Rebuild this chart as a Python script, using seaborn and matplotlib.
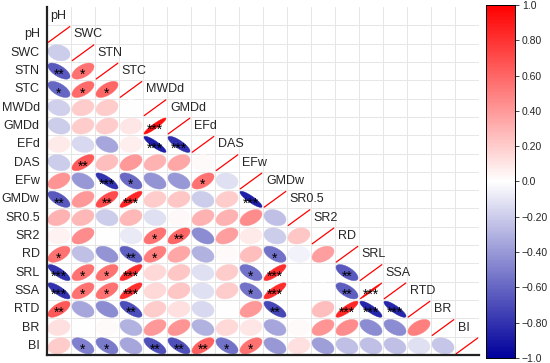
import numpy as np
import pandas as pd
import matplotlib
matplotlib.use("Agg")
import matplotlib.pyplot as plt
from matplotlib.colors import LinearSegmentedColormap
from matplotlib.patches import Polygon
import seaborn as sns

# variables in plotting order
variables = ["pH", "SWC", "STN", "STC", "MWDd", "GMDd", "EFd", "DAS", "EFw",
             "GMDw", "SR0.5", "SR2", "RD", "SRL", "SSA", "RTD", "BR", "BI"]

# lower-triangle correlations (row i, columns 0..i-1)
r_SWC = [-0.2]
r_STN = [-0.65, 0.55]
r_STC = [-0.6, 0.58, 0.6]
r_MWDd = [-0.18, 0.2, 0.2, 0.0]
r_GMDd = [-0.2, 0.2, 0.2, 0.1, 0.93]
r_EFd = [0.08, -0.15, -0.35, 0.07, -0.88, -0.82]
r_DAS = [-0.2, 0.65, 0.25, 0.4, 0.3, 0.35, 0.02]
r_EFw = [0.42, -0.4, -0.8, -0.58, -0.42, -0.4, 0.55, -0.12]
r_GMDw = [-0.65, 0.4, 0.7, 0.85, 0.2, 0.22, -0.2, 0.2, -0.88]
r_SR05 = [0.3, 0.28, -0.2, 0.28, -0.12, 0.03, 0.3, 0.3, 0.45, -0.25]
r_SR2 = [0.05, 0.45, 0.0, -0.08, 0.55, 0.6, -0.45, 0.38, 0.08, -0.2, 0.22]
r_RD = [0.55, -0.25, -0.42, -0.62, 0.5, 0.35, -0.3, 0.02, 0.25, -0.55, -0.05, 0.38]
r_SRL = [-0.8, 0.55, 0.55, 0.82, 0.15, 0.22, -0.12, 0.2, -0.55, 0.82, 0.0, 0.0, -0.65]
r_SSA = [-0.8, 0.55, 0.55, 0.82, 0.15, 0.22, -0.12, 0.2, -0.55, 0.82, 0.0, 0.0, -0.63, 0.99]
r_RTD = [0.65, -0.35, -0.45, -0.7, 0.2, 0.12, -0.15, 0.0, 0.4, -0.72, 0.0, 0.25, 0.85, -0.85, -0.85]
r_BR = [0.12, 0.0, 0.02, -0.3, 0.4, 0.42, -0.3, 0.15, 0.1, -0.35, 0.02, 0.42, 0.45, -0.45, -0.45, 0.5]
r_BI = [0.2, -0.5, -0.52, -0.35, -0.68, -0.68, 0.62, -0.55, 0.55, -0.4, 0.12, -0.38, -0.25, -0.25, -0.25, -0.12, -0.22]

# significance marks, same layout
s_SWC = [""]
s_STN = ["**", "*"]
s_STC = ["*", "*", "*"]
s_MWDd = ["", "", "", ""]
s_GMDd = ["", "", "", "", "***"]
s_EFd = ["", "", "", "", "***", "***"]
s_DAS = ["", "**", "", "", "", "", ""]
s_EFw = ["", "", "***", "*", "", "", "*", ""]
s_GMDw = ["**", "", "**", "***", "", "", "", "", "***"]
s_SR05 = [""] * 10
s_SR2 = ["", "", "", "", "*", "**", "", "", "", "", ""]
s_RD = ["*", "", "", "**", "*", "", "", "", "", "*", "", ""]
s_SRL = ["***", "*", "*", "***", "", "", "", "", "*", "***", "", "", "**"]
s_SSA = ["***", "*", "*", "***", "", "", "", "", "*", "***", "", "", "**", "***"]
s_RTD = ["**", "", "", "**", "", "", "", "", "", "**", "", "", "***", "***", "***"]
s_BR = [""] * 16
s_BI = ["", "*", "*", "", "**", "**", "**", "*", "*", "", "", "", "", "", "", "", ""]

rows_r = [[], r_SWC, r_STN, r_STC, r_MWDd, r_GMDd, r_EFd, r_DAS, r_EFw, r_GMDw,
          r_SR05, r_SR2, r_RD, r_SRL, r_SSA, r_RTD, r_BR, r_BI]
rows_s = [[], s_SWC, s_STN, s_STC, s_MWDd, s_GMDd, s_EFd, s_DAS, s_EFw, s_GMDw,
          s_SR05, s_SR2, s_RD, s_SRL, s_SSA, s_RTD, s_BR, s_BI]

n = len(variables)
corr = np.full((n, n), np.nan)
for i, vals in enumerate(rows_r):
    corr[i, :i] = vals
    corr[i, i] = 1.0
corr_df = pd.DataFrame(corr, index=variables, columns=variables)

cmap = LinearSegmentedColormap.from_list("corr", ["#00009C", "#FFFFFF", "#FF0000"])
norm = plt.Normalize(-1, 1)

sns.set_style("white")
plt.rcParams["font.family"] = ["Liberation Sans", "DejaVu Sans"]

fig = plt.figure(figsize=(5.5, 3.63), dpi=100)
ax = fig.add_axes([47 / 550, 8 / 363, 432 / 550, 348 / 363])
cax = fig.add_axes([486 / 550, 5 / 363, 29 / 550, 353 / 363])

# empty frame (header row + matrix), used for axes and colorbar
frame = pd.concat([pd.DataFrame([[np.nan] * n], columns=variables, index=[""]), corr_df])
sns.heatmap(frame, mask=np.ones(frame.shape, dtype=bool), cmap=cmap, vmin=-1, vmax=1,
            ax=ax, cbar_ax=cax, xticklabels=False, yticklabels=False)

ax.set_xlim(0, n)
ax.set_ylim(n + 1, 0)
ax.set_xticks(range(n + 1))
ax.set_yticks(range(1, n + 2))
ax.grid(True, color="#E6E6E6", lw=0.7)
ax.set_axisbelow(True)
ax.tick_params(length=0, labelbottom=False, labelleft=False)
for side in ["top", "right"]:
    ax.spines[side].set_visible(False)
for side in ["left", "bottom"]:
    ax.spines[side].set_visible(True)
    ax.spines[side].set_color("#222222")
    ax.spines[side].set_linewidth(1.6)

t = np.linspace(0, 2 * np.pi, 80)
sx, sy = 0.46, 0.44
for i in range(n):
    for j in range(i + 1):
        r = corr[i, j]
        cx, cy = j + 0.5, i + 1.5
        if i == j:
            ax.plot([cx - 0.45, cx + 0.45], [cy + 0.43, cy - 0.43], color="red", lw=0.9)
            continue
        d = np.arccos(np.clip(r, -1, 1))
        px = cx + sx * np.cos(t + d / 2)
        py = cy - sy * np.cos(t - d / 2)
        col = cmap(norm(r))
        ax.add_patch(Polygon(np.column_stack([px, py]), closed=True,
                             facecolor=col, edgecolor=col, lw=0.3))
        star = rows_s[i][j]
        if star:
            ax.text(cx, cy + 0.22, star, ha="center", va="center", fontsize=10,
                    color="black")

# row labels on the left
for i, name in enumerate(variables):
    ax.text(-0.3, i + 1.5, name, ha="right", va="center", fontsize=9,
            clip_on=False)
# column labels along the diagonal
for j, name in enumerate(variables):
    ax.text(j + 0.12, j + 0.5, name, ha="left", va="center", fontsize=9,
            clip_on=False)

ticks = [1.0, 0.8, 0.6, 0.4, 0.2, 0.0, -0.2, -0.4, -0.6, -0.8, -1.0]
labels = ["1.0", "0.80", "0.60", "0.40", "0.20", "0.0", "\u22120.20", "\u22120.40",
          "\u22120.60", "\u22120.80", "\u22121.0"]
cax.set_yticks(ticks)
cax.set_yticklabels(labels)
cax.tick_params(labelsize=7.5, length=3, width=0.6, pad=2)
for sp in cax.spines.values():
    sp.set_visible(True)
    sp.set_color("black")
    sp.set_linewidth(0.6)

fig.savefig("out.png", dpi=100)
